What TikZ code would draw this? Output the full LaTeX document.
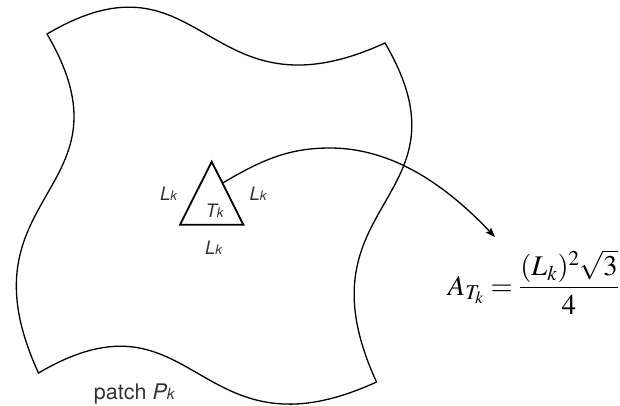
\documentclass[tikz,border=0pt]{standalone}
\usepackage{amsmath}
\usepackage{mathptmx}
\usepackage[no-math]{fontspec}
\newfontfamily\labfont{TeX Gyre Heros}
\usetikzlibrary{arrows.meta,calc}
\newcommand{\smallk}{{\fontsize{13.3}{14}\selectfont k}}
\newcommand{\bigk}{{\fontsize{15.5}{16}\selectfont k}}
\begin{document}
\begin{tikzpicture}[x=1pt,y=-1pt,
  patchline/.style={line width=1.3pt, line join=miter},
  triline/.style={line width=1.8pt, line join=miter},
  conn/.style={line width=1.3pt, -{Stealth[length=9.5pt,width=7pt,inset=1.5pt]}},
  lab/.style={inner sep=0pt, anchor=base, text=black!80, font=\labfont\fontsize{18.5}{20}\selectfont\itshape},
  plab/.style={inner sep=0pt, anchor=base, text=black!80, font=\labfont\fontsize{21.5}{24}\selectfont},
  eqn/.style={inner sep=0pt, anchor=base east, font=\fontsize{28.5}{34}\selectfont}]
\useasboundingbox (0,0) rectangle (620,405);
% patch corners
\coordinate (pA) at (47,34);
\coordinate (pB) at (385,43);
\coordinate (pC) at (376.5,382);
\coordinate (pD) at (38.5,373);
\draw[patchline] (pA) .. controls (205,-59) and (203.5,126) .. (pB)
  .. controls (477.9,201.5) and (292.8,199.9) .. (pC)
  .. controls (194.9,465.2) and (196.5,280.1) .. (pD)
  .. controls (-44.8,191.8) and (140.3,192.8) .. cycle;
% triangle
\coordinate (ta) at (211.7,161.7);
\coordinate (tl) at (180,224.8);
\coordinate (tr) at (243.4,224.8);
\draw[triline] (ta) -- (tr) -- (tl) -- cycle;
\node[lab] (tk) at (214.5,217) {T\smallk};
\node[lab] (lkl) at (168.5,200) {L\smallk};
\node[lab] (lkr) at (258,200) {L\smallk};
\node[lab] (lkb) at (213.5,254) {L\smallk};
\node[plab] (patch) at (134.3,399.3) {patch {\itshape P\bigk}};
% formula
\node[eqn] (area) at (619,295) {$\thickmuskip=4mu\displaystyle A_{T_k} = \frac{(L_k)^2\sqrt{3}}{4}$};
% connector
\coordinate (as) at ($(ta)!0.34!(tr)$);
\coordinate (apk) at (330,148);
\coordinate (tip) at (495,237);
\draw[conn] (as) .. controls (263,159) and (290,148) .. (apk)
  .. controls (400,148) and (455,195) .. (tip);
\end{tikzpicture}
\end{document}
